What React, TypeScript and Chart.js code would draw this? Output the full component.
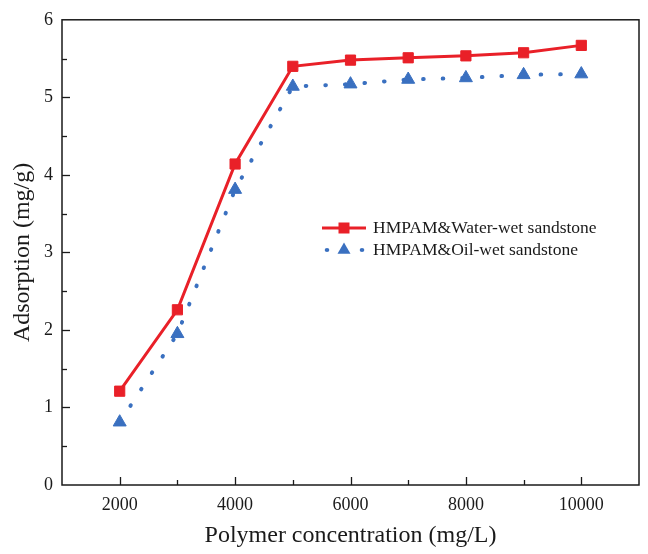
import React, { useEffect, useRef } from "react";
import { Chart, registerables } from "chart.js";

Chart.register(...registerables);

const concentrations = [2000, 3000, 4000, 5000, 6000, 7000, 8000, 9000, 10000];
const waterWet = [1.21, 2.26, 4.14, 5.4, 5.48, 5.51, 5.535, 5.575, 5.67];
const oilWet = [0.81, 1.95, 3.81, 5.14, 5.17, 5.23, 5.25, 5.29, 5.3];
const xTickLabels = ["2000", "4000", "6000", "8000", "10000"];
const yTickLabels = ["0", "1", "2", "3", "4", "5", "6"];
const seriesNames = ["HMPAM&Water-wet sandstone", "HMPAM&Oil-wet sandstone"];
const xTitle = "Polymer concentration (mg/L)";
const yTitle = "Adsorption (mg/g)";

const RED = "rgb(233,32,40)";
const BLUE = "rgb(58,112,192)";
const FONT = "'Liberation Serif', 'Times New Roman', serif";
const INK = "#1a1a1a";

const framePlugin = {
  id: "frameTicks",
  afterDraw(chart: any) {
    const ctx = chart.ctx as CanvasRenderingContext2D;
    const { left, right, top, bottom } = chart.chartArea;
    ctx.save();
    ctx.strokeStyle = INK;
    ctx.lineWidth = 1.5;
    ctx.strokeRect(left, top, right - left, bottom - top);
    ctx.lineWidth = 1.3;
    const xs = chart.scales.x;
    xs.ticks.forEach((t: any) => {
      if (t.value <= xs.min || t.value >= xs.max) return;
      const px = Math.round(xs.getPixelForValue(t.value)) + 0.5;
      const len = t.value % 2000 === 0 ? 8 : 5;
      ctx.beginPath();
      ctx.moveTo(px, bottom);
      ctx.lineTo(px, bottom - len);
      ctx.stroke();
    });
    const ys = chart.scales.y;
    ys.ticks.forEach((t: any) => {
      if (t.value <= ys.min || t.value >= ys.max) return;
      const py = Math.round(ys.getPixelForValue(t.value)) + 0.5;
      const len = Number.isInteger(t.value) ? 8 : 5;
      ctx.beginPath();
      ctx.moveTo(left, py);
      ctx.lineTo(left + len, py);
      ctx.stroke();
    });
    ctx.restore();
  },
};

const legendPlugin = {
  id: "insideLegend",
  afterDraw(chart: any) {
    const ctx = chart.ctx as CanvasRenderingContext2D;
    const ds = chart.data.datasets;
    const x0 = 322;
    const x1 = 366;
    const xm = (x0 + x1) / 2;
    const tx = 373;
    const rows = [228, 250];
    ctx.save();
    ctx.strokeStyle = ds[0].borderColor;
    ctx.lineWidth = 3;
    ctx.beginPath();
    ctx.moveTo(x0, rows[0]);
    ctx.lineTo(x1, rows[0]);
    ctx.stroke();
    ctx.fillStyle = ds[0].pointBackgroundColor;
    ctx.fillRect(xm - 5.5, rows[0] - 5.5, 11, 11);
    ctx.fillStyle = ds[1].pointBackgroundColor;
    [x0 + 5, x1 - 4].forEach((dx) => {
      ctx.beginPath();
      ctx.ellipse(dx, rows[1], 2.3, 2, 0, 0, Math.PI * 2);
      ctx.fill();
    });
    const r = 7.5;
    ctx.beginPath();
    ctx.moveTo(xm, rows[1] - r);
    ctx.lineTo(xm + r * 0.866, rows[1] + r / 2);
    ctx.lineTo(xm - r * 0.866, rows[1] + r / 2);
    ctx.closePath();
    ctx.fill();
    ctx.fillStyle = INK;
    ctx.font = `17.5px ${FONT}`;
    ctx.textBaseline = "middle";
    ctx.textAlign = "left";
    ctx.fillText(ds[0].label, tx, rows[0]);
    ctx.fillText(ds[1].label, tx, rows[1]);
    ctx.restore();
  },
};

export default function App() {
  const canvasRef = useRef<HTMLCanvasElement>(null);

  useEffect(() => {
    const canvas = canvasRef.current;
    if (!canvas) return;
    const chart = new Chart(canvas, {
      type: "line",
      data: {
        datasets: [
          {
            label: seriesNames[0],
            data: concentrations.map((c, i) => ({ x: c, y: waterWet[i] })),
            borderColor: RED,
            backgroundColor: RED,
            borderWidth: 3,
            pointStyle: "rect",
            pointRadius: 7.2,
            pointBorderWidth: 1,
            pointBackgroundColor: RED,
            pointBorderColor: RED,
            tension: 0,
          },
          {
            label: seriesNames[1],
            data: concentrations.map((c, i) => ({ x: c, y: oilWet[i] })),
            borderColor: BLUE,
            backgroundColor: BLUE,
            borderWidth: 4,
            borderDash: [0.6, 19],
            borderCapStyle: "round",
            pointStyle: "triangle",
            pointRadius: 7.5,
            pointBorderWidth: 1,
            pointBackgroundColor: BLUE,
            pointBorderColor: BLUE,
            tension: 0,
          },
        ],
      },
      options: {
        animation: false,
        responsive: false,
        devicePixelRatio: 1,
        layout: { padding: { top: 16, right: 4, left: 0, bottom: 0 } },
        plugins: {
          legend: { display: false },
          tooltip: { enabled: false },
        },
        scales: {
          x: {
            type: "linear",
            min: 1000,
            max: 11000,
            grid: { display: false, drawTicks: false },
            border: { display: false },
            ticks: {
              stepSize: 1000,
              autoSkip: false,
              maxRotation: 0,
              padding: 9,
              color: INK,
              font: { family: FONT, size: 18 },
              callback: (v: any) => (xTickLabels.includes(String(v)) ? String(v) : ""),
            },
            title: {
              display: true,
              text: xTitle,
              color: INK,
              font: { family: FONT, size: 24 },
              padding: { top: 0, bottom: 4 },
            },
            afterFit: (s: any) => {
              s.height = 69;
            },
          },
          y: {
            type: "linear",
            min: 0,
            max: 6,
            grid: { display: false, drawTicks: false },
            border: { display: false },
            ticks: {
              stepSize: 0.5,
              autoSkip: false,
              padding: 9,
              color: INK,
              font: { family: FONT, size: 18 },
              callback: (v: any) => (yTickLabels.includes(String(v)) ? String(v) : ""),
            },
            title: {
              display: true,
              text: yTitle,
              color: INK,
              font: { family: FONT, size: 24 },
              padding: { top: 8, bottom: 0 },
            },
            afterFit: (s: any) => {
              s.width = 62;
            },
          },
        },
      },
      plugins: [framePlugin, legendPlugin],
    });
    return () => chart.destroy();
  }, []);

  return (
    <div style={{ position: "absolute", left: 0, top: 0, width: 648, height: 554, background: "#fff" }}>
      <canvas ref={canvasRef} width={648} height={554} style={{ display: "block" }} />
    </div>
  );
}
